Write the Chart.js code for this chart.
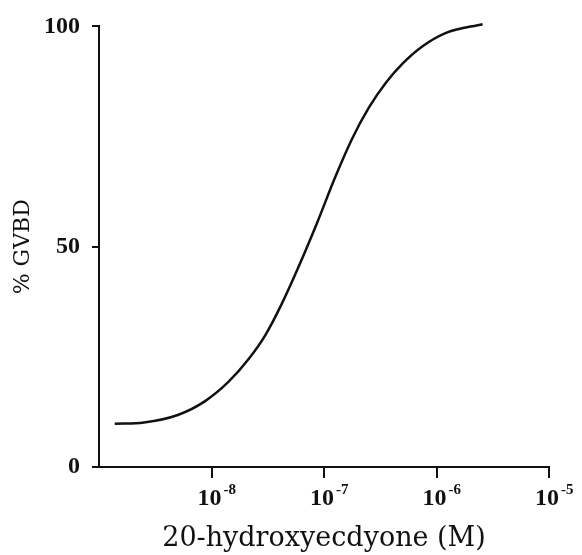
<!DOCTYPE html>
<html>
<head>
<meta charset="utf-8">
<script src="https://cdn.jsdelivr.net/npm/chart.js@4/dist/chart.umd.min.js"></script>
<style>
    html, body { margin: 0; padding: 0; background: #fff; }
    #wrap { width: 582px; height: 555px; }
</style>
</head>
<body>
<div id="wrap"><canvas id="myChart"></canvas></div>
<script>
// log10 of 20-hydroxyecdyone concentration (M) and % GVBD
const logConc = [-8.86, -8.60, -8.30, -8.06, -7.85, -7.67, -7.52, -7.38, -7.22, -7.06, -6.90, -6.75, -6.60, -6.45, -6.30, -6.13, -5.91, -5.59];
const gvbd    = [9.8, 10.1, 11.8, 14.9, 19.3, 24.5, 30.0, 36.8, 45.8, 55.5, 65.8, 74.5, 81.6, 87.2, 91.6, 95.4, 98.6, 100.5];

const xTickValues = [-8, -7, -6, -5];
const xTickExponents = ['-8', '-7', '-6', '-5'];
const yTickValues = [0, 50, 100];

const ink = '#111';

// draws "10" with a raised exponent under each x tick
const powerLabels = {
    id: 'powerLabels',
    afterDraw(chart) {
        const ctx = chart.ctx;
        const xs = chart.scales.x;
        const base = xs.top + 38;
        ctx.save();
        ctx.fillStyle = ink;
        ctx.textBaseline = 'alphabetic';
        xTickValues.forEach((v, i) => {
            const px = xs.getPixelForValue(v);
            ctx.font = 'bold 24px "Liberation Serif"';
            const w = ctx.measureText('10').width;
            ctx.textAlign = 'left';
            ctx.fillText('10', px - w / 2 - 2, base);
            ctx.font = 'bold 15px "Liberation Serif"';
            ctx.fillText(xTickExponents[i], px + w / 2, base - 11);
        });
        ctx.restore();
    }
};

document.addEventListener('DOMContentLoaded', () => {
    const points = logConc.map((x, i) => ({ x: x, y: gvbd[i] }));

    new Chart(document.getElementById('myChart'), {
        type: 'line',
        data: {
            datasets: [{
                data: points,
                borderColor: ink,
                borderWidth: 2.5,
                pointRadius: 0,
                fill: false,
                cubicInterpolationMode: 'monotone',
                clip: false
            }]
        },
        options: {
            responsive: true, maintainAspectRatio: false, animation: false,
            layout: { padding: { top: 22, right: 33, left: 0, bottom: 0 } },
            plugins: { legend: { display: false }, tooltip: { enabled: false } },
            scales: {
                x: {
                    type: 'linear', min: -9, max: -5,
                    afterBuildTicks: scale => { scale.ticks = xTickValues.map(v => ({ value: v })); },
                    afterFit: scale => { scale.height = 88; },
                    ticks: { color: 'rgba(0,0,0,0)', maxRotation: 0, font: { size: 12 } },
                    grid: { drawOnChartArea: false, drawTicks: true, tickLength: 11, color: ink, lineWidth: 2 },
                    border: { display: true, color: ink, width: 2 },
                    title: {
                        display: true, text: '20-hydroxyecdyone (M)', color: ink,
                        font: { family: 'DejaVu Serif', size: 27 },
                        padding: { top: 0, bottom: 0 }
                    }
                },
                y: {
                    min: 0, max: 100,
                    afterBuildTicks: scale => { scale.ticks = yTickValues.map(v => ({ value: v })); },
                    afterFit: scale => { scale.width = 99; },
                    ticks: {
                        color: ink, padding: 12,
                        font: { family: 'Liberation Serif', size: 24, weight: 'bold' }
                    },
                    grid: { drawOnChartArea: false, drawTicks: true, tickLength: 7, color: ink, lineWidth: 2 },
                    border: { display: true, color: ink, width: 2 },
                    title: {
                        display: true, text: '% GVBD', color: ink,
                        font: { family: 'DejaVu Serif', size: 22 },
                        padding: { top: 10, bottom: 0 }
                    }
                }
            }
        },
        plugins: [powerLabels]
    });
});
</script>
</body>
</html>
